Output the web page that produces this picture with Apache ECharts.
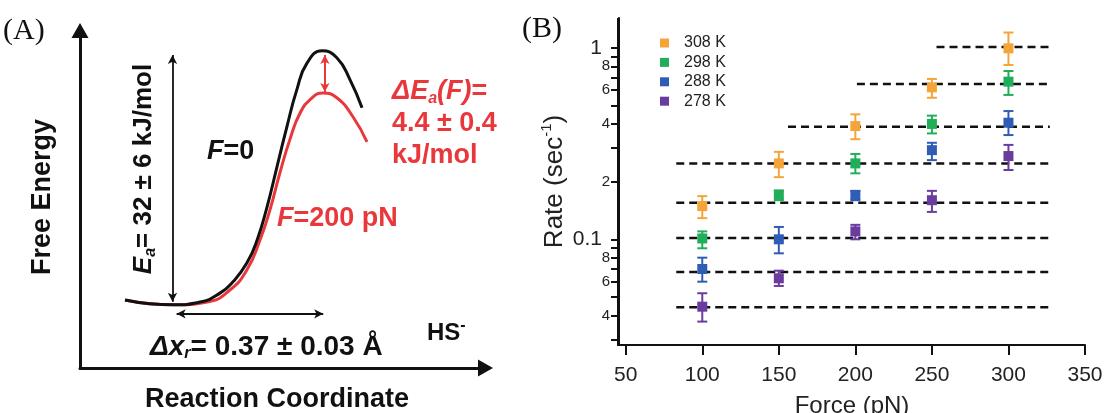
<!DOCTYPE html>
<html>
<head>
<meta charset="utf-8">
<script src="https://cdn.jsdelivr.net/npm/echarts@6/dist/echarts.min.js"></script>
<style>
html, body { margin: 0; padding: 0; background: #fff; }
#main { width: 1104px; height: 413px; }
</style>
</head>
<body>
<div id="main"></div>
<script>
// ---- panel A: schematic free energy profiles (arbitrary units) ----
var coordF0  = [1.09, 1.69, 2.25, 2.91, 3.39, 3.70, 4.04, 4.29, 4.53, 4.77, 5.01, 5.25, 5.50, 5.86, 6.22, 6.54, 6.83];
var energyF0 = [1.97, 1.86, 1.83, 1.91, 2.17, 2.49, 3.04, 3.71, 4.67, 5.83, 6.99, 8.06, 8.84, 9.19, 8.99, 8.35, 7.54];
var coordF200  = [1.09, 2.25, 3.08, 3.63, 4.04, 4.36, 4.60, 4.84, 5.08, 5.33, 5.62, 5.88, 6.22, 6.61, 6.95];
var energyF200 = [1.97, 1.83, 1.91, 2.26, 2.84, 3.71, 4.58, 5.65, 6.61, 7.39, 7.83, 7.97, 7.83, 7.28, 6.55];
// annotation arrows [x1, y1, x2, y2]
var arrowEa = [2.24, 1.92, 2.24, 9.07];
var arrowDx = [2.34, 1.57, 5.89, 1.57];
var arrowDE = [5.93, 9.07, 5.93, 8.00];

// ---- panel B: rate vs force ----
var forces = [100, 150, 200, 250, 300];
var temps = ['308 K', '298 K', '288 K', '278 K'];
var rate308 = [0.149, 0.249, 0.390, 0.621, 0.993];
var low308  = [0.129, 0.211, 0.333, 0.548, 0.812];
var high308 = [0.168, 0.286, 0.449, 0.687, 1.20];
var rate298 = [0.101, 0.170, 0.249, 0.400, 0.665];
var low298  = [0.0898, 0.160, 0.221, 0.357, 0.567];
var high298 = [0.110, 0.180, 0.279, 0.442, 0.756];
var rate288 = [0.070, 0.100, 0.170, 0.292, 0.406];
var low288  = [0.0601, 0.0845, 0.160, 0.259, 0.350];
var high288 = [0.0802, 0.116, 0.179, 0.319, 0.467];
var rate278 = [0.0445, 0.0626, 0.110, 0.160, 0.272];
var low278  = [0.0372, 0.0571, 0.100, 0.139, 0.230];
var high278 = [0.0523, 0.0686, 0.119, 0.179, 0.311];
// dashed reference levels
var refLevels = [1.01, 0.646, 0.387, 0.249, 0.155, 0.1016, 0.0675, 0.0442];
var refFrom = [253, 201, 156, 83, 83, 83, 83, 83];
var refTo = 327;
var xMin = 45.6, xMax = 350;
var yMin = 0.02808, yMax = 1.429;
var xTicks = [50, 100, 150, 200, 250, 300, 350];
var yTicks = [0.03, 0.04, 0.05, 0.06, 0.07, 0.08, 0.09, 0.1, 0.2, 0.3, 0.4, 0.5, 0.6, 0.7, 0.8, 0.9, 1];
var yLabels = [0.04, 0.06, 0.08, 0.1, 0.2, 0.4, 0.6, 0.8, 1];

var colors = ['#F4A53A', '#20AE5A', '#2F5DB5', '#6A3C9E'];
var red = '#E8383C';
var sans = '"Liberation Sans", Arial, sans-serif';

var chart = echarts.init(document.getElementById('main'));

function zip(a, b) {
    return a.map(function (v, i) { return [v, b[i]]; });
}

function arrowLine(a) {
    return [[{ coord: [a[0], a[1]] }, { coord: [a[2], a[3]] }]];
}

function rateLabel(v) {
    var e = Math.floor(Math.log10(v) + 1e-6);
    var m = Math.round(v / Math.pow(10, e));
    if (m === 1) return '{dec|' + (e === 0 ? '1' : '0.1') + '}';
    return '{sm|' + m + '}';
}

var rates = [rate308, rate298, rate288, rate278];
var lows = [low308, low298, low288, low278];
var highs = [high308, high298, high288, high278];

var series = [];

// panel A curves
series.push({
    type: 'line', xAxisIndex: 0, yAxisIndex: 0, data: zip(coordF200, energyF200),
    smooth: true, symbol: 'none', lineStyle: { color: red, width: 3 }, silent: true, z: 2,
    markLine: {
        silent: true, symbol: ['arrow', 'arrow'], symbolSize: [7, 9], label: { show: false },
        lineStyle: { color: red, width: 2, type: 'solid' },
        data: arrowLine(arrowDE)
    }
});
series.push({
    type: 'line', xAxisIndex: 0, yAxisIndex: 0, data: zip(coordF0, energyF0),
    smooth: true, symbol: 'none', lineStyle: { color: '#111', width: 3 }, silent: true, z: 3,
    markLine: {
        silent: true, symbol: ['arrow', 'arrow'], symbolSize: [7, 9], label: { show: false },
        lineStyle: { color: '#111', width: 1.8, type: 'solid' },
        data: arrowLine(arrowEa).concat(arrowLine(arrowDx))
    }
});

// panel B dashed levels
refLevels.forEach(function (lv, i) {
    series.push({
        type: 'line', xAxisIndex: 1, yAxisIndex: 1,
        data: [[refFrom[i], lv], [refTo, lv]],
        symbol: 'none', silent: true, z: 2,
        lineStyle: { color: '#111', width: 2.5, type: [8, 5] }
    });
});

// left spine of panel B as a thin filled bar over the full y range
series.push({
    type: 'custom', xAxisIndex: 1, yAxisIndex: 1, silent: true, clip: false, z: 10,
    data: [[xMin, yMin, yMax]],
    encode: { x: 0, y: [1, 2] },
    renderItem: function (params, api) {
        var a = api.coord([api.value(0), api.value(1)]);
        var b = api.coord([api.value(0), api.value(2)]);
        return {
            type: 'rect',
            shape: { x: a[0] - 2, y: b[1], width: 2.5, height: a[1] - b[1] + 1 },
            style: { fill: '#111' }
        };
    }
});

// panel B error bars + points
temps.forEach(function (name, k) {
    var c = colors[k];
    series.push({
        type: 'custom', name: name + ' err', xAxisIndex: 1, yAxisIndex: 1, z: 3, silent: true,
        data: forces.map(function (f, i) { return [f, lows[k][i], highs[k][i]]; }),
        encode: { x: 0, y: [1, 2] },
        renderItem: function (params, api) {
            var lo = api.coord([api.value(0), api.value(1)]);
            var hi = api.coord([api.value(0), api.value(2)]);
            var w = 5;
            var st = { stroke: c, lineWidth: 2 };
            return {
                type: 'group', children: [
                    { type: 'line', shape: { x1: lo[0], y1: lo[1], x2: hi[0], y2: hi[1] }, style: st },
                    { type: 'line', shape: { x1: lo[0] - w, y1: lo[1], x2: lo[0] + w, y2: lo[1] }, style: st },
                    { type: 'line', shape: { x1: hi[0] - w, y1: hi[1], x2: hi[0] + w, y2: hi[1] }, style: st }
                ]
            };
        }
    });
    series.push({
        type: 'scatter', name: name, xAxisIndex: 1, yAxisIndex: 1, z: 4,
        data: zip(forces, rates[k]),
        symbol: 'rect', symbolSize: 10,
        itemStyle: { color: c, opacity: 1 }
    });
});

var richA = {
    n: { fontSize: 27, fontWeight: 'bold', fontFamily: sans },
    i: { fontSize: 27, fontWeight: 'bold', fontStyle: 'italic', fontFamily: sans },
    s: { fontSize: 16, fontWeight: 'bold', fontStyle: 'italic', fontFamily: sans, padding: [14, 0, 0, 0] },
    p: { fontSize: 16, fontWeight: 'bold', fontFamily: sans, padding: [0, 0, 14, 0] }
};
function richText(x, y, text, color, size, rot) {
    var rich = {};
    for (var key in richA) {
        rich[key] = Object.assign({}, richA[key]);
        if (size && (key === 'n' || key === 'i')) rich[key].fontSize = size;
    }
    return {
        type: 'text', x: x, y: y, silent: true, rotation: rot || 0,
        style: {
            text: text, rich: rich, fill: color, verticalAlign: 'middle', align: rot ? 'center' : 'left',
            fontSize: size || 27, fontWeight: 'bold', fontFamily: sans
        }
    };
}

chart.setOption({
    animation: false,
    textStyle: { fontFamily: sans },
    grid: [
        { left: 80, top: 30.5, width: 405.5, height: 337.5, outerBoundsMode: 'none' },
        { left: 619, top: 18, right: 19, bottom: 68, outerBoundsMode: 'none' }
    ],
    legend: {
        data: temps, orient: 'vertical', left: 655, top: 30, icon: 'rect',
        itemWidth: 9, itemHeight: 9, itemGap: 3.4, selectedMode: false,
        textStyle: { fontSize: 16, color: '#222', lineHeight: 16, padding: [0, 0, 0, 10] }
    },
    xAxis: [
        {
            gridIndex: 0, type: 'value', min: 0, max: 9.82,
            axisLine: { show: true, lineStyle: { color: '#111', width: 3 }, symbol: ['none', 'triangle'], symbolSize: [17, 15] },
            axisTick: { show: false }, axisLabel: { show: false }, splitLine: { show: false }
        },
        {
            gridIndex: 1, type: 'value', min: xMin, max: xMax,
            name: 'Force (pN)', nameLocation: 'middle', nameGap: 49,
            nameTextStyle: { fontSize: 24, color: '#222', fontFamily: sans },
            axisLine: { show: true, onZero: false, lineStyle: { color: '#111', width: 2 } },
            axisTick: { show: true, length: 10, lineStyle: { color: '#111', width: 2 }, customValues: xTicks },
            axisLabel: { fontSize: 21, color: '#222', margin: 20, customValues: xTicks },
            splitLine: { show: false }
        }
    ],
    yAxis: [
        {
            gridIndex: 0, type: 'value', min: 0, max: 9.78,
            axisLine: { show: true, lineStyle: { color: '#111', width: 3 }, symbol: ['none', 'triangle'], symbolSize: [17, 15] },
            axisTick: { show: false }, axisLabel: { show: false }, splitLine: { show: false }
        },
        {
            gridIndex: 1, type: 'log', logBase: 10, min: yMin, max: yMax, position: 'left',
            name: 'Rate (sec{sup|-1})', nameLocation: 'middle', nameGap: 49, nameRotate: 90,
            nameTextStyle: {
                fontSize: 26, color: '#222', fontFamily: sans,
                rich: { sup: { fontSize: 15, color: '#222', padding: [0, 0, 16, 0] } }
            },
            axisLine: { show: true, onZero: false, lineStyle: { color: '#111', width: 2 } },
            axisTick: { show: true, length: 8, lineStyle: { color: '#111', width: 2 }, customValues: yTicks },
            axisLabel: {
                margin: 9, color: '#222', customValues: yLabels, formatter: rateLabel,
                rich: {
                    dec: { fontSize: 21, color: '#222', padding: [0, 8, 0, 0] },
                    sm: { fontSize: 15, color: '#222' }
                }
            },
            splitLine: { show: false }, minorTick: { show: false }
        }
    ],
    graphic: [
        { type: 'text', x: 3, y: 31, silent: true, style: { text: '(A)', fontSize: 30, fontFamily: '"Liberation Serif", serif', fill: '#111', verticalAlign: 'middle' } },
        { type: 'text', x: 522, y: 29, silent: true, style: { text: '(B)', fontSize: 30, fontFamily: '"Liberation Serif", serif', fill: '#111', verticalAlign: 'middle' } },
        { type: 'text', x: 43, y: 197, rotation: Math.PI / 2, silent: true, style: { text: 'Free Energy', fontSize: 27, fontWeight: 'bold', fontFamily: sans, fill: '#111', align: 'center', verticalAlign: 'middle' } },
        { type: 'text', x: 277, y: 400, silent: true, style: { text: 'Reaction Coordinate', fontSize: 27, fontWeight: 'bold', fontFamily: sans, fill: '#111', align: 'center', verticalAlign: 'middle' } },
        richText(144, 169, '{i|E}{s|a}{n|= 32 ± 6 kJ/mol}', '#111', 26, Math.PI / 2),
        richText(207, 152, '{i|F}{n|=0}', '#111'),
        richText(277, 219, '{i|F}{n|=200 pN}', red),
        richText(392, 92, '{i|ΔE}{s|a}{i|(F)}{n|=}', red),
        richText(392, 124, '4.4 ± 0.4', red),
        richText(392, 156, 'kJ/mol', red),
        richText(427, 333, '{n|HS}{p|-}', '#111', 24),
        richText(150, 347, '{i|Δx}{s|r}{n|= 0.37 ± 0.03 Å}', '#111', 28)
    ],
    series: series
});
</script>
</body>
</html>
